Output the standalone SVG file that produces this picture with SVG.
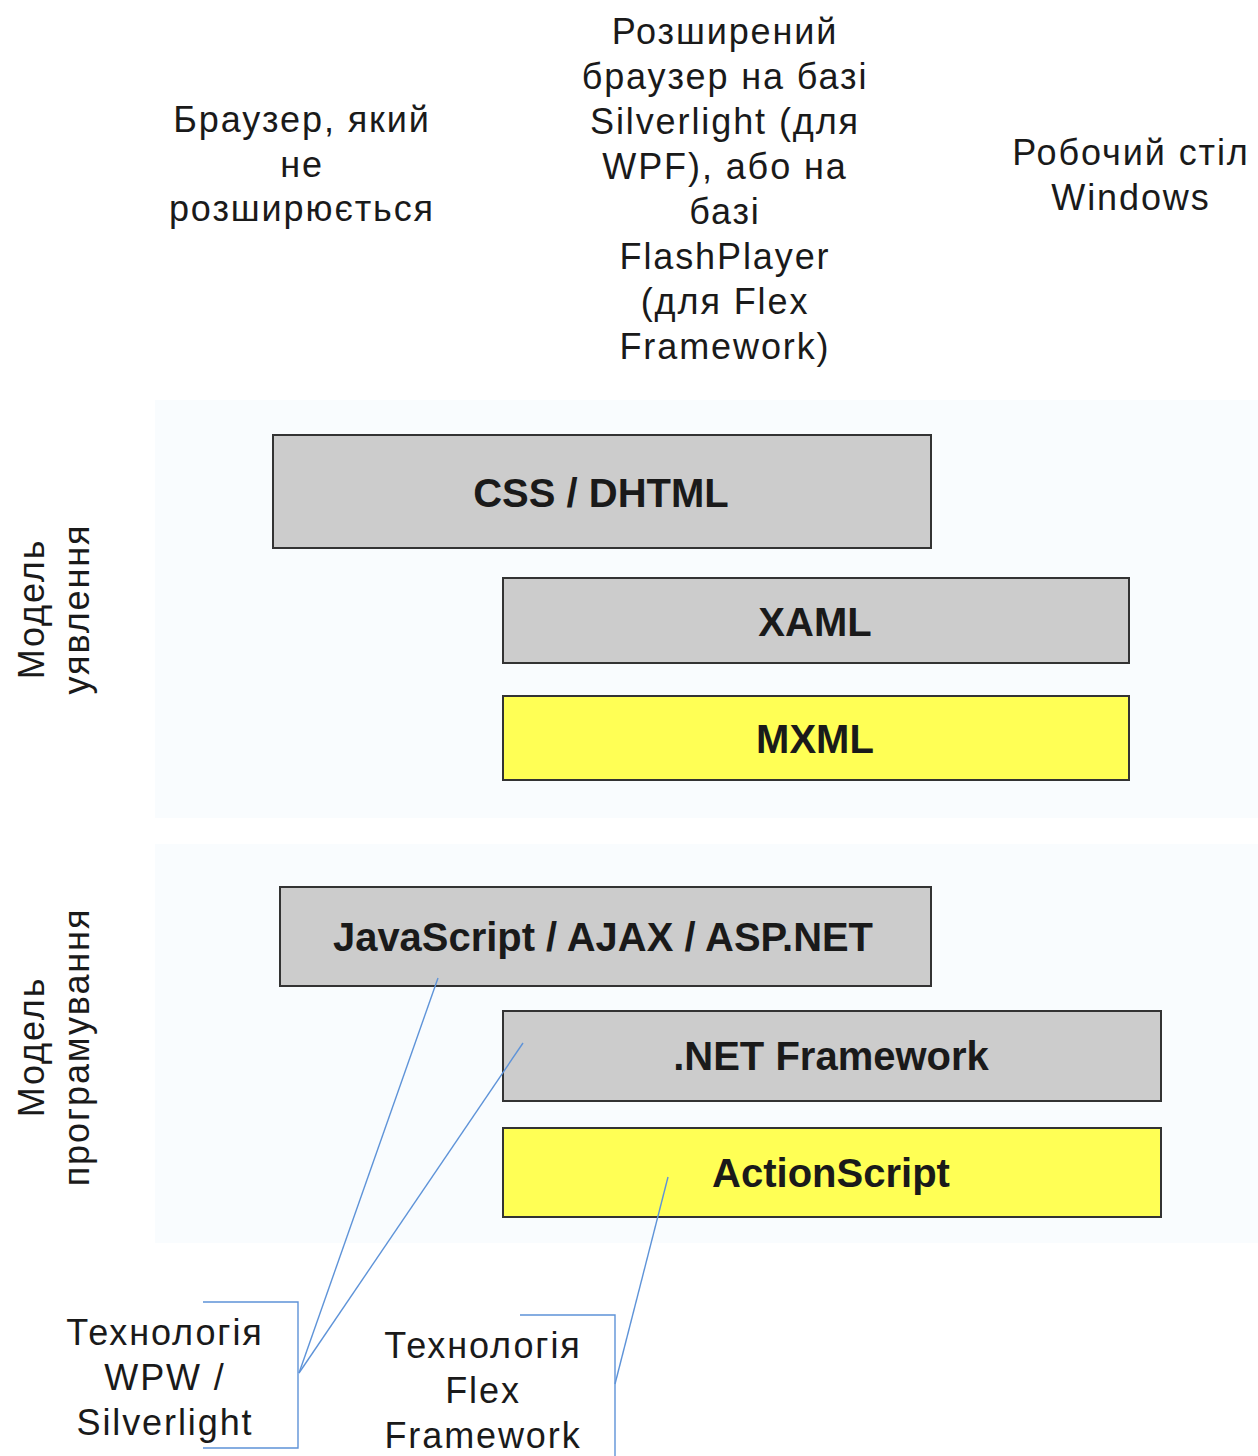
<svg xmlns="http://www.w3.org/2000/svg" width="1258" height="1456" viewBox="0 0 1258 1456">
<style>
.t{font-family:"Liberation Sans",Arial,sans-serif;font-size:36px;letter-spacing:1.9px;fill:#1a1a1a;text-anchor:middle}
.b{font-family:"Liberation Sans",Arial,sans-serif;font-size:40px;font-weight:bold;fill:#1a1a1a;text-anchor:middle}
.gray{fill:#cccccc;stroke:#333333;stroke-width:2}
.yel{fill:#ffff55;stroke:#333333;stroke-width:2}
.panel{fill:#f9fcfe}
.call{fill:none;stroke:#5e93d8;stroke-width:1.4}
</style>
<rect width="1258" height="1456" fill="#ffffff"/>
<rect class="panel" x="155" y="400" width="1103" height="418"/>
<rect class="panel" x="155" y="844" width="1103" height="399"/>
<g id="header-browser">
<text class="t" x="302" y="132">Браузер, який</text>
<text class="t" x="302" y="177">не</text>
<text class="t" x="302" y="221">розширюється</text>
</g>
<g id="header-extended">
<text class="t" x="725" y="44">Розширений</text>
<text class="t" x="725" y="89">браузер на базі</text>
<text class="t" x="725" y="134">Silverlight (для</text>
<text class="t" x="725" y="179">WPF), або на</text>
<text class="t" x="725" y="224">базі</text>
<text class="t" x="725" y="269">FlashPlayer</text>
<text class="t" x="725" y="314">(для Flex</text>
<text class="t" x="725" y="359">Framework)</text>
</g>
<g id="header-desktop">
<text class="t" x="1131" y="165">Робочий стіл</text>
<text class="t" x="1131" y="210">Windows</text>
</g>
<g id="label-view">
<text class="t" transform="translate(44,609) rotate(-90)">Модель</text>
<text class="t" transform="translate(89,609) rotate(-90)">уявлення</text>
</g>
<g id="label-prog">
<text class="t" transform="translate(44,1047) rotate(-90)">Модель</text>
<text class="t" transform="translate(89,1047) rotate(-90)">програмування</text>
</g>
<g id="css">
<rect class="gray" x="273" y="435" width="658" height="113"/>
<text class="b" x="601" y="507">CSS / DHTML</text>
</g>
<g id="xaml">
<rect class="gray" x="503" y="578" width="626" height="85"/>
<text class="b" x="815" y="636">XAML</text>
</g>
<g id="mxml">
<rect class="yel" x="503" y="696" width="626" height="84"/>
<text class="b" x="815" y="753">MXML</text>
</g>
<g id="js">
<rect class="gray" x="280" y="887" width="651" height="99"/>
<text class="b" x="603" y="951" textLength="540" lengthAdjust="spacingAndGlyphs">JavaScript / AJAX / ASP.NET</text>
</g>
<g id="net">
<rect class="gray" x="503" y="1011" width="658" height="90"/>
<text class="b" x="831" y="1070">.NET Framework</text>
</g>
<g id="as">
<rect class="yel" x="503" y="1128" width="658" height="89"/>
<text class="b" x="831" y="1187">ActionScript</text>
</g>
<g id="callout-wpw">
<text class="t" x="165" y="1345">Технологія</text>
<text class="t" x="165" y="1390">WPW /</text>
<text class="t" x="165" y="1435">Silverlight</text>
</g>
<g id="callout-flex">
<text class="t" x="483" y="1358">Технологія</text>
<text class="t" x="483" y="1403">Flex</text>
<text class="t" x="483" y="1448">Framework</text>
</g>
<g id="connectors">
<path class="call" d="M203,1302 H298 V1448 H203"/>
<path class="call" d="M299,1373 L438,978"/>
<path class="call" d="M299,1373 L523,1043"/>
<path class="call" d="M520,1315 H615 V1456"/>
<path class="call" d="M615,1384 L668,1177"/>
</g>
</svg>
